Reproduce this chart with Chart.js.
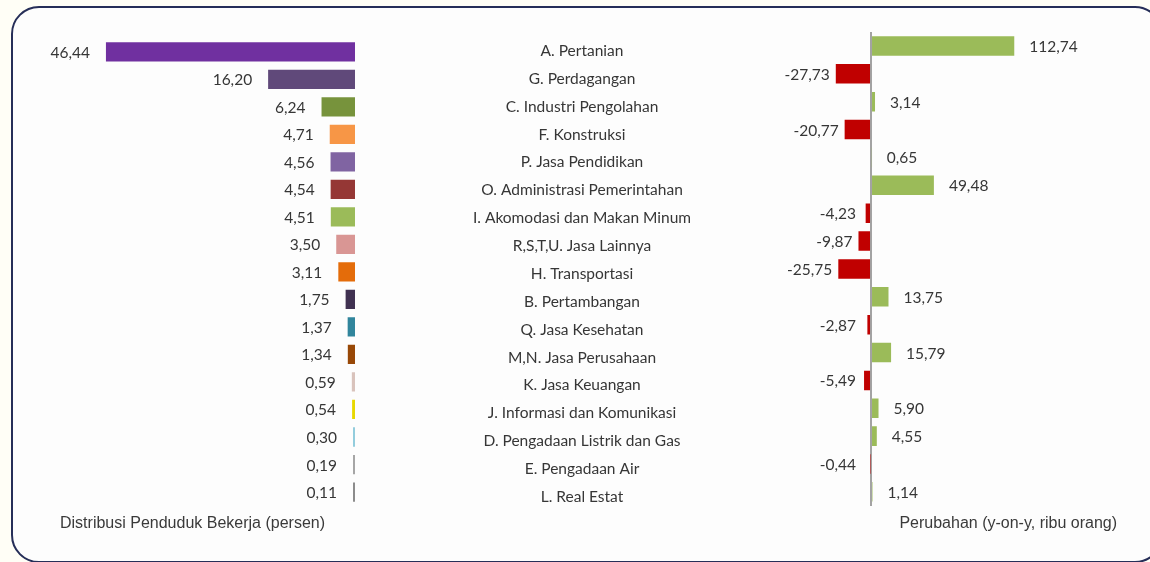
<!DOCTYPE html>
<html>
<head>
<meta charset="utf-8">
<script src="https://cdn.jsdelivr.net/npm/chart.js@4.4.1/dist/chart.umd.min.js"></script>
<style>
  body { margin: 0; background: #fff; }
  #wrap { position: relative; width: 1150px; height: 562px; overflow: hidden; background: #fffef6; }
  #frame { position: absolute; left: 11px; top: 6px; width: 1152px; height: 557px; border: 2.5px solid #262e58;
           border-radius: 28px; box-sizing: border-box; background: #fdfdfd; }
  #kiri { position: absolute; left: 0; top: 0; }
  #kanan { position: absolute; left: 400px; top: 0; }
</style>
</head>
<body>
<div id="wrap">
  <div id="frame"></div>
  <canvas id="kiri" width="380" height="562"></canvas>
  <canvas id="kanan" width="750" height="562"></canvas>
</div>
<script>
// data sektor lapangan usaha
const sektor = [
  'A. Pertanian', 'G. Perdagangan', 'C. Industri Pengolahan', 'F. Konstruksi',
  'P. Jasa Pendidikan', 'O. Administrasi Pemerintahan', 'I. Akomodasi dan Makan Minum',
  'R,S,T,U. Jasa Lainnya', 'H. Transportasi', 'B. Pertambangan', 'Q. Jasa Kesehatan',
  'M,N. Jasa Perusahaan', 'K. Jasa Keuangan', 'J. Informasi dan Komunikasi',
  'D. Pengadaan Listrik dan Gas', 'E. Pengadaan Air', 'L. Real Estat'
];
// distribusi penduduk bekerja (persen)
const distribusi = [46.44, 16.20, 6.24, 4.71, 4.56, 4.54, 4.51, 3.50, 3.11, 1.75, 1.37, 1.34, 0.59, 0.54, 0.30, 0.19, 0.11];
// perubahan y-on-y (ribu orang)
const perubahan = [112.74, -27.73, 3.14, -20.77, 0.65, 49.48, -4.23, -9.87, -25.75, 13.75, -2.87, 15.79, -5.49, 5.90, 4.55, -0.44, 1.14];

const warnaDistribusi = [
  '#7030a0', '#60497a', '#77933c', '#f79646', '#8064a2', '#953735', '#9bbb59', '#d99694',
  '#e46c0a', '#403151', '#31859c', '#984807', '#d9c3bc', '#e8d800', '#93cddd', '#a6a6a6', '#8c8c8c'
];
const warnaNaik = '#9bbb59';
const warnaTurun = '#c00000';

const fontAngka = '15.5px Lato';
const fontSektor = '15.5px Lato';
const warnaTeks = '#363636';

function formatAngka(v) {
  return v.toFixed(2).replace('.', ',');
}

// plugin untuk menulis nilai di ujung batang
const labelNilai = {
  id: 'labelNilai',
  afterDatasetsDraw(chart, args, opts) {
    const ctx = chart.ctx;
    const meta = chart.getDatasetMeta(0);
    const nilai = chart.data.datasets[0].data;
    const nol = chart.scales.x.getPixelForValue(0);
    ctx.save();
    ctx.font = fontAngka;
    ctx.fillStyle = warnaTeks;
    ctx.textBaseline = 'middle';
    meta.data.forEach((bar, i) => {
      const v = nilai[i];
      const teks = formatAngka(v);
      const y = bar.y + 1;
      if (opts.sisi === 'kiri') {
        ctx.textAlign = 'right';
        ctx.fillText(teks, Math.min(bar.x, bar.base) - 16, y);
      } else if (v >= 0) {
        ctx.textAlign = 'left';
        ctx.fillText(teks, Math.max(bar.x, nol) + 15, y);
      } else {
        ctx.textAlign = 'right';
        ctx.fillText(teks, Math.min(bar.x - 6, nol - 15), y);
      }
    });
    ctx.restore();
  }
};

const fontJudul = { family: 'Liberation Sans', size: 16 };

// grafik kiri: distribusi
new Chart(document.getElementById('kiri'), {
  type: 'bar',
  data: {
    labels: sektor,
    datasets: [{
      data: distribusi,
      backgroundColor: warnaDistribusi,
      barPercentage: 0.7,
      categoryPercentage: 1,
      minBarLength: 2
    }]
  },
  options: {
    indexAxis: 'y',
    responsive: false,
    animation: false,
    layout: { padding: { left: 30, right: 25, top: 38, bottom: 29 } },
    plugins: {
      legend: { display: false },
      tooltip: { enabled: false },
      labelNilai: { sisi: 'kiri' }
    },
    scales: {
      x: {
        reverse: true,
        min: 0,
        max: 60.6,
        grid: { display: false, drawTicks: false },
        border: { display: false },
        ticks: { display: false },
        title: {
          display: true,
          text: 'Distribusi Penduduk Bekerja (persen)',
          color: '#3a3a3a',
          font: fontJudul,
          padding: { top: 8, bottom: 0 }
        }
      },
      y: { display: false }
    }
  },
  plugins: [labelNilai]
});

// ukur label sektor terpanjang supaya label bisa di tengah
const ukur = document.createElement('canvas').getContext('2d');
ukur.font = fontSektor;
const terlebar = Math.max(...sektor.map(s => ukur.measureText(s).width));

// grafik kanan: perubahan
new Chart(document.getElementById('kanan'), {
  type: 'bar',
  data: {
    labels: sektor,
    datasets: [{
      data: perubahan,
      backgroundColor: perubahan.map(v => v < 0 ? warnaTurun : warnaNaik),
      barPercentage: 0.7,
      categoryPercentage: 1
    }]
  },
  options: {
    indexAxis: 'y',
    responsive: false,
    animation: false,
    layout: { padding: { left: 0, right: 33, top: 32, bottom: 29 } },
    plugins: {
      legend: { display: false },
      tooltip: { enabled: false },
      labelNilai: { sisi: 'kanan' }
    },
    scales: {
      x: {
        min: -55.9,
        max: 193.6,
        ticks: { display: false },
        // hanya garis nol yang digambar
        afterBuildTicks: scale => { scale.ticks = [{ value: 0 }]; },
        grid: {
          drawTicks: false,
          lineWidth: 2,
          color: '#a3a3a3'
        },
        border: { display: false },
        title: {
          display: true,
          text: 'Perubahan (y-on-y, ribu orang)',
          align: 'end',
          color: '#3a3a3a',
          font: fontJudul,
          padding: { top: 8, bottom: 0 }
        }
      },
      y: {
        position: 'left',
        grid: { display: false, drawTicks: false },
        border: { display: false },
        ticks: {
          autoSkip: false,
          crossAlign: 'center',
          padding: 218 - terlebar / 2,
          labelOffset: 5,
          color: warnaTeks,
          font: { family: 'Lato', size: 15.5 }
        },
        afterFit: scale => {
          scale.width = 400;
          // padding label jangan mengecilkan area grafik
          scale.paddingTop = 0;
          scale.paddingBottom = 0;
        }
      }
    }
  },
  plugins: [labelNilai]
});
</script>
</body>
</html>
